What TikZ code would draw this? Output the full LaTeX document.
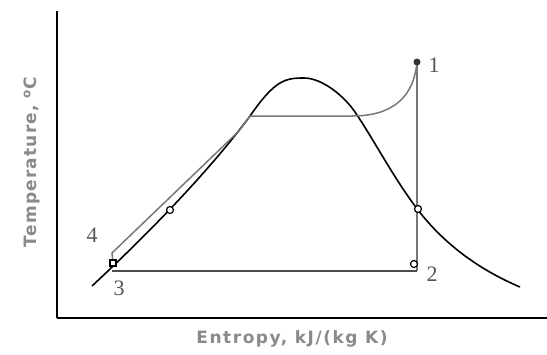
\documentclass[tikz,border=0pt]{standalone}
\usepackage{fontspec}
\setmainfont{Liberation Serif}
\newfontfamily\axisfont{DejaVu Sans}[LetterSpace=9]
\newfontfamily\axisfontY{DejaVu Sans}[LetterSpace=7]
\definecolor{cyc}{HTML}{777777}
\definecolor{lab}{HTML}{8A8A8A}
\definecolor{num}{HTML}{555555}
\begin{document}
\begin{tikzpicture}[x=1pt,y=-1pt,
  axis/.style={black,line width=1.8pt},
  dome/.style={black,line width=1.6pt},
  cycle/.style={cyc,line width=1.5pt},
  base/.style={black!70,line width=2.2pt},
  ptlab/.style={num,font=\fontsize{22}{22}\selectfont},
  axlab/.style={lab,font=\bfseries\fontsize{17}{17}\selectfont},
  mk/.style={circle,draw=black,fill=white,inner sep=0pt,minimum size=7pt,line width=1.2pt}]
\useasboundingbox (0,0) rectangle (547,354);
% axes
\coordinate (O) at (57,318);
\coordinate (Ytop) at (57,11);
\coordinate (Xend) at (547,318);
\draw[axis] (Ytop) -- (O);
\draw[axis,line width=2.6pt] (O) -- (Xend);
% saturation dome
\coordinate (d0) at (92,286);
\coordinate (dl) at (250,116);
\coordinate (dt) at (304,78);
\coordinate (dr) at (357,115);
\coordinate (dc) at (418,210);
\coordinate (de) at (520,287);
\draw[dome] (d0) .. controls (150,232) and (210,170) .. (dl)
  .. controls (275,80) and (285,78) .. (dt)
  .. controls (322,78) and (345,96) .. (dr)
  .. controls (375,142) and (395,180) .. (dc)
  .. controls (445,245) and (480,270) .. (de);
% cycle points
\coordinate (p1) at (417,62);
\coordinate (p2) at (417,271);
\coordinate (p3) at (113,263);
\coordinate (p4) at (112,253);
\coordinate (b3) at (112,271);
\coordinate (mg) at (239,131);
\coordinate (sl) at (250,116);
\coordinate (sr) at (352,116);
% cycle lines
\draw[cycle] (p3) -- (p4) -- (mg) -- (sl) -- (sr) .. controls (395,116) and (414,95) .. (p1);
\draw[cycle] (p1) -- (p2);
\draw[base] (b3) -- (p2);
% markers
\node[mk] (m1) at (170,210) {};
\node[mk] (m2) at (418,209) {};
\node[mk] (m3) at (414,264) {};
\node[rectangle,draw=black,fill=white,inner sep=0pt,minimum size=6pt,line width=1.2pt] (m4) at (p3) {};
\node[circle,fill=black!80,inner sep=0pt,minimum size=7pt] (m5) at (p1) {};
% labels
\node[ptlab] (l1) at (434,65) {1};
\node[ptlab] (l2) at (432,274) {2};
\node[ptlab] (l3) at (119,288) {3};
\node[ptlab] (l4) at (92,235) {4};
\node[axlab] (xl) at (292,339) {\axisfont Entropy, kJ/(kg K)};
\node[axlab,rotate=90] (yl) at (32,162) {\axisfontY Temperature, \textsuperscript{o}C};
\end{tikzpicture}
\end{document}
